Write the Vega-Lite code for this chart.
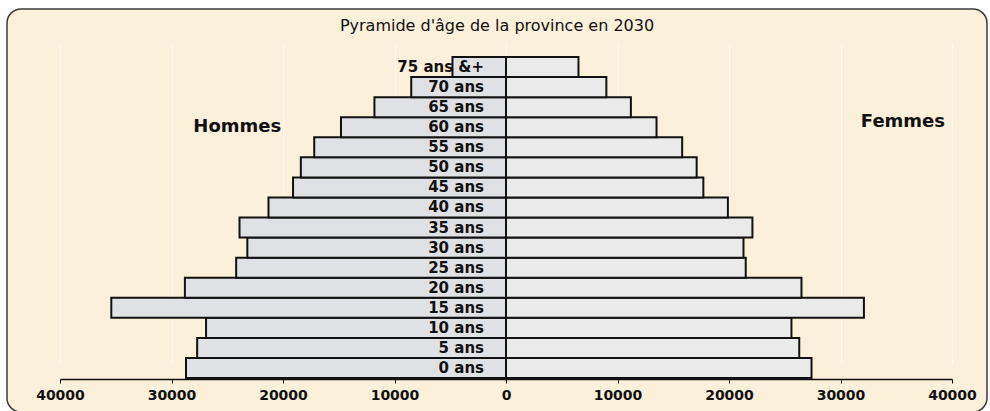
{
  "$schema": "https://vega.github.io/schema/vega-lite/v6.json",
  "width": 980,
  "height": 403,
  "autosize": {"type": "none"},
  "padding": {"left": 7, "top": 9, "right": 3, "bottom": 0},
  "background": "#ffffff",
  "config": {
    "view": {"fill": "#fbf0da", "stroke": "#3a3a3a", "strokeWidth": 1.5, "cornerRadius": 14},
    "font": "DejaVu Sans"
  },
  "title": {
    "text": "Pyramide d'âge de la province en 2030",
    "font": "DejaVu Sans",
    "fontSize": 16,
    "fontWeight": "normal",
    "color": "#111111",
    "anchor": "middle",
    "baseline": "bottom",
    "offset": -41
  },
  "data": {
    "values": [
      {"age": "0 ans", "sexe": "Hommes", "effectif": -28700},
      {"age": "5 ans", "sexe": "Hommes", "effectif": -27700},
      {"age": "10 ans", "sexe": "Hommes", "effectif": -26900},
      {"age": "15 ans", "sexe": "Hommes", "effectif": -35400},
      {"age": "20 ans", "sexe": "Hommes", "effectif": -28800},
      {"age": "25 ans", "sexe": "Hommes", "effectif": -24200},
      {"age": "30 ans", "sexe": "Hommes", "effectif": -23200},
      {"age": "35 ans", "sexe": "Hommes", "effectif": -23900},
      {"age": "40 ans", "sexe": "Hommes", "effectif": -21300},
      {"age": "45 ans", "sexe": "Hommes", "effectif": -19100},
      {"age": "50 ans", "sexe": "Hommes", "effectif": -18400},
      {"age": "55 ans", "sexe": "Hommes", "effectif": -17200},
      {"age": "60 ans", "sexe": "Hommes", "effectif": -14800},
      {"age": "65 ans", "sexe": "Hommes", "effectif": -11800},
      {"age": "70 ans", "sexe": "Hommes", "effectif": -8500},
      {"age": "75 ans &+", "sexe": "Hommes", "effectif": -4800},
      {"age": "0 ans", "sexe": "Femmes", "effectif": 27400},
      {"age": "5 ans", "sexe": "Femmes", "effectif": 26300},
      {"age": "10 ans", "sexe": "Femmes", "effectif": 25600},
      {"age": "15 ans", "sexe": "Femmes", "effectif": 32100},
      {"age": "20 ans", "sexe": "Femmes", "effectif": 26500},
      {"age": "25 ans", "sexe": "Femmes", "effectif": 21500},
      {"age": "30 ans", "sexe": "Femmes", "effectif": 21300},
      {"age": "35 ans", "sexe": "Femmes", "effectif": 22100},
      {"age": "40 ans", "sexe": "Femmes", "effectif": 19900},
      {"age": "45 ans", "sexe": "Femmes", "effectif": 17700},
      {"age": "50 ans", "sexe": "Femmes", "effectif": 17100},
      {"age": "55 ans", "sexe": "Femmes", "effectif": 15800},
      {"age": "60 ans", "sexe": "Femmes", "effectif": 13500},
      {"age": "65 ans", "sexe": "Femmes", "effectif": 11200},
      {"age": "70 ans", "sexe": "Femmes", "effectif": 9000},
      {"age": "75 ans &+", "sexe": "Femmes", "effectif": 6500}
    ]
  },
  "layer": [
    {
      "mark": {"type": "bar", "stroke": "#111111", "strokeWidth": 2},
      "encoding": {
        "y": {
          "field": "age",
          "type": "nominal",
          "sort": ["75 ans &+", "70 ans", "65 ans", "60 ans", "55 ans", "50 ans", "45 ans", "40 ans", "35 ans", "30 ans", "25 ans", "20 ans", "15 ans", "10 ans", "5 ans", "0 ans"],
          "scale": {"range": [48, 369], "paddingInner": 0, "paddingOuter": 0},
          "axis": null
        },
        "x": {
          "field": "effectif",
          "type": "quantitative",
          "scale": {"domain": [-40000, 40000], "range": [53, 945], "nice": false, "zero": false},
          "axis": {
            "orient": "bottom",
            "offset": -33,
            "values": [-40000, -30000, -20000, -10000, 0, 10000, 20000, 30000, 40000],
            "labelExpr": "format(abs(datum.value), 'd')",
            "title": null,
            "domainColor": "#111111",
            "domainWidth": 1.5,
            "tickColor": "#111111",
            "tickSize": 4,
            "labelFont": "DejaVu Sans",
            "labelFontWeight": "bold",
            "labelFontSize": 14,
            "labelColor": "#111111",
            "labelPadding": 5,
            "labelFlush": false,
            "grid": true,
            "gridColor": "#ffffff",
            "gridOpacity": 0.6
          }
        },
        "color": {
          "field": "sexe",
          "type": "nominal",
          "scale": {"domain": ["Hommes", "Femmes"], "range": ["#e0e1e5", "#eaeaea"]},
          "legend": null
        }
      }
    },
    {
      "transform": [{"filter": "datum.sexe == 'Hommes'"}],
      "mark": {"type": "text", "align": "right", "baseline": "middle", "dx": -22, "font": "DejaVu Sans", "fontWeight": "bold", "fontSize": 15, "color": "#111111"},
      "encoding": {
        "y": {"field": "age", "type": "nominal", "sort": ["75 ans &+", "70 ans", "65 ans", "60 ans", "55 ans", "50 ans", "45 ans", "40 ans", "35 ans", "30 ans", "25 ans", "20 ans", "15 ans", "10 ans", "5 ans", "0 ans"]},
        "x": {"datum": 0},
        "text": {"field": "age"}
      }
    },
    {
      "transform": [{"filter": "datum.sexe == 'Hommes' && datum.age == '60 ans'"}],
      "mark": {"type": "text", "align": "center", "baseline": "middle", "font": "DejaVu Sans", "fontWeight": "bold", "fontSize": 18, "color": "#111111"},
      "encoding": {
        "y": {"field": "age", "type": "nominal", "sort": ["75 ans &+", "70 ans", "65 ans", "60 ans", "55 ans", "50 ans", "45 ans", "40 ans", "35 ans", "30 ans", "25 ans", "20 ans", "15 ans", "10 ans", "5 ans", "0 ans"]},
        "x": {"datum": -24100},
        "text": {"field": "sexe"}
      }
    },
    {
      "transform": [{"filter": "datum.sexe == 'Femmes' && datum.age == '60 ans'"}],
      "mark": {"type": "text", "align": "center", "baseline": "middle", "dy": -5, "font": "DejaVu Sans", "fontWeight": "bold", "fontSize": 18, "color": "#111111"},
      "encoding": {
        "y": {"field": "age", "type": "nominal", "sort": ["75 ans &+", "70 ans", "65 ans", "60 ans", "55 ans", "50 ans", "45 ans", "40 ans", "35 ans", "30 ans", "25 ans", "20 ans", "15 ans", "10 ans", "5 ans", "0 ans"]},
        "x": {"datum": 35600},
        "text": {"field": "sexe"}
      }
    }
  ]
}
